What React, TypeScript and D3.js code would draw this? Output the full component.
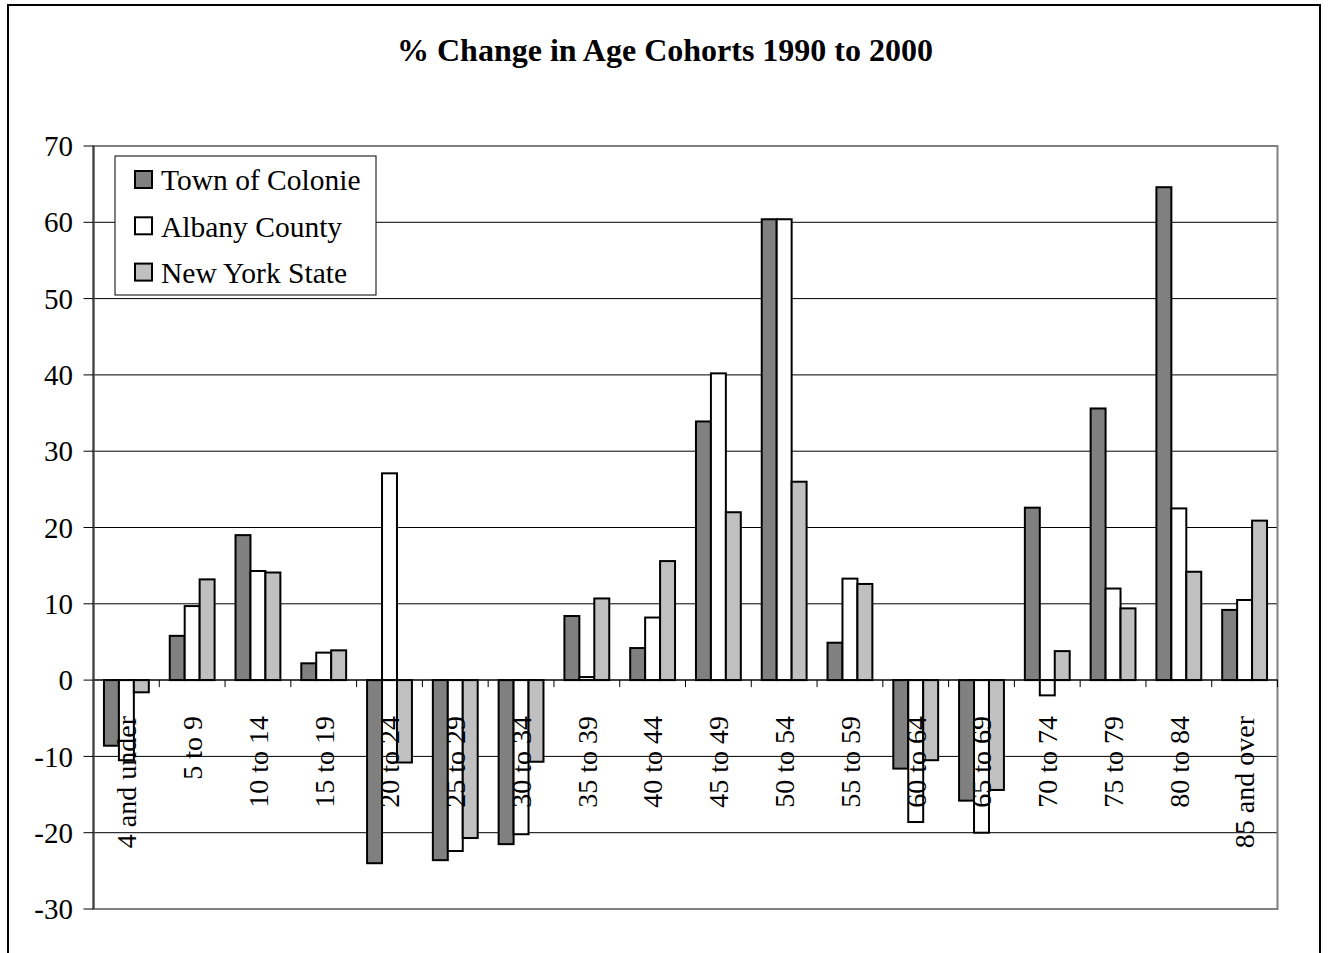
import React from "react";
import * as d3 from "d3";

const categories = [
  "4 and under", "5 to 9", "10 to 14", "15 to 19", "20 to 24", "25 to 29",
  "30 to 34", "35 to 39", "40 to 44", "45 to 49", "50 to 54", "55 to 59",
  "60 to 64", "65 to 69", "70 to 74", "75 to 79", "80 to 84", "85 and over",
];
const seriesNames = ["Town of Colonie", "Albany County", "New York State"];
const colonie = [-8.6, 5.8, 19.0, 2.2, -24.0, -23.6, -21.5, 8.4, 4.2, 33.9, 60.4, 4.9, -11.6, -15.8, 22.6, 35.6, 64.6, 9.2];
const albany = [-10.5, 9.7, 14.3, 3.6, 27.1, -22.4, -20.2, 0.4, 8.2, 40.2, 60.4, 13.3, -18.6, -20.0, -2.0, 12.0, 22.5, 10.5];
const nys = [-1.6, 13.2, 14.1, 3.9, -10.8, -20.7, -10.7, 10.7, 15.6, 22.0, 26.0, 12.6, -10.5, -14.4, 3.8, 9.4, 14.2, 20.9];
const yTicks = [70, 60, 50, 40, 30, 20, 10, 0, -10, -20, -30];
const title = "% Change in Age Cohorts 1990 to 2000";

const colors = ["#808080", "#ffffff", "#c0c0c0"];
const FONT = "'Liberation Serif', 'Times New Roman', serif";

export default function App() {
  const W = 1328, H = 953;
  const left = 93.5, right = 1277.5, top = 146, bottom = 909;
  const seriesData = [colonie, albany, nys];

  const x = d3.scaleBand<string>().domain(categories).range([left, right]).paddingInner(0).paddingOuter(0);
  const y = d3.scaleLinear().domain([-30, 70]).range([bottom, top]);
  const bw = x.bandwidth() / 4.4;
  const groupW = bw * 3;

  return (
    <svg width={W} height={H} style={{ position: "absolute", left: 0, top: 0 }} fontFamily={FONT}>
      <rect x={0} y={0} width={W} height={H} fill="#ffffff" />
      {/* outer chart border */}
      <rect x={8} y={5} width={1312} height={H + 10} fill="none" stroke="#000" strokeWidth={2} />
      <text x={665} y={61} textAnchor="middle" fontSize={32} fontWeight="bold" fill="#000">{title}</text>

      {/* gridlines */}
      {yTicks.filter(t => t !== 70 && t !== -30 && t !== 0).map(t => (
        <line key={"g" + t} x1={left} x2={right} y1={y(t)} y2={y(t)} stroke="#000" strokeWidth={1} />
      ))}
      {/* plot border */}
      <rect x={left} y={top} width={right - left} height={bottom - top} fill="none" stroke="#808080" strokeWidth={2} />

      {/* bars */}
      {categories.map((c, i) => {
        const x0 = (x(c) as number) + (x.bandwidth() - groupW) / 2;
        return seriesData.map((s, k) => {
          const v = s[i];
          const y1 = y(Math.max(0, v));
          const y2 = y(Math.min(0, v));
          return (
            <rect key={c + k} x={x0 + k * bw} y={y1} width={bw} height={Math.max(0.5, y2 - y1)}
              fill={colors[k]} stroke="#000" strokeWidth={2} />
          );
        });
      })}

      {/* zero axis line */}
      <line x1={left} x2={right} y1={y(0)} y2={y(0)} stroke="#000" strokeWidth={1.5} />
      {categories.map(c => (
        <line key={"t" + c} x1={x(c) as number} x2={x(c) as number} y1={y(0)} y2={y(0) + 7}
          stroke="#000" strokeWidth={1} />
      ))}
      <line x1={right} x2={right} y1={y(0)} y2={y(0) + 7} stroke="#000" strokeWidth={1} />

      {/* y axis */}
      <line x1={left} x2={left} y1={top} y2={bottom} stroke="#404040" strokeWidth={2} />
      {yTicks.map(t => (
        <g key={"y" + t}>
          <line x1={left - 10} x2={left} y1={y(t)} y2={y(t)} stroke="#000" strokeWidth={1} />
          <text x={73} y={y(t)} dy="0.35em" textAnchor="end" fontSize={29} fill="#000">{t}</text>
        </g>
      ))}

      {/* category labels */}
      {categories.map(c => {
        const cx = (x(c) as number) + x.bandwidth() / 2;
        return (
          <text key={"c" + c} transform={`translate(${cx},716) rotate(-90)`} dy="0.35em" textAnchor="end"
            fontSize={28} fill="#000">{c}</text>
        );
      })}

      {/* legend */}
      <rect x={115} y={156} width={261} height={139} fill="#ffffff" stroke="#000" strokeWidth={1} />
      {seriesNames.map((n, k) => (
        <g key={"l" + n}>
          <rect x={135} y={171 + k * 46.3} width={17} height={17} fill={colors[k]} stroke="#000" strokeWidth={2} />
          <text x={161} y={180 + k * 46.3} dy="0.35em" fontSize={29.5} fill="#000">{n}</text>
        </g>
      ))}
    </svg>
  );
}
